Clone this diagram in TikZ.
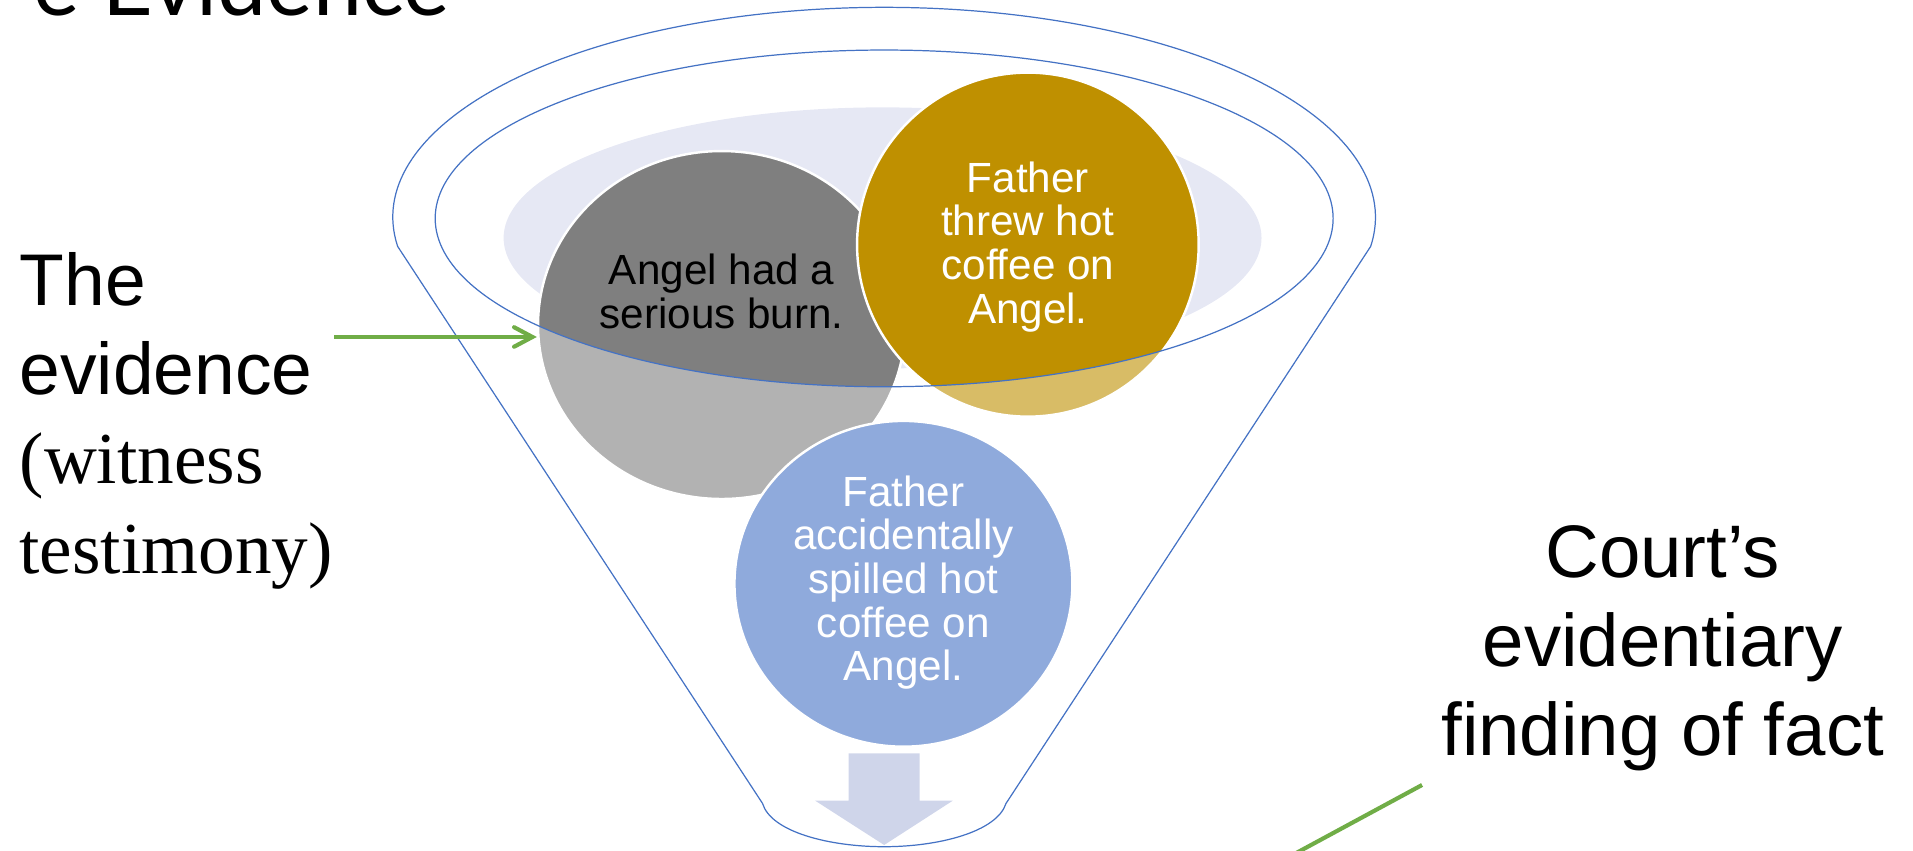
\documentclass[tikz,border=0pt]{standalone}
\usepackage{fontspec}
\setmainfont{Liberation Sans}
\newfontfamily\serifface{Liberation Serif}
\newfontfamily\titleface{Lato}
\usetikzlibrary{shapes.geometric,arrows.meta,calc}
\definecolor{rim}{HTML}{4472C4}
\definecolor{haze}{HTML}{E6E8F4}
\definecolor{burngray}{HTML}{7F7F7F}
\definecolor{gold}{HTML}{BF9000}
\definecolor{softblue}{HTML}{8FAADC}
\definecolor{chute}{HTML}{CFD5EA}
\definecolor{leaf}{HTML}{70AD47}
\begin{document}
\begin{tikzpicture}[x=0.5pt,y=-0.5pt,
  rimline/.style={draw=rim,line width=0.5pt},
  disc/.style={ellipse,inner sep=0,draw=white,line width=1pt},
  disctext/.style={align=center,font=\fontsize{17.3}{17.9}\selectfont,inner sep=0,anchor=base},
  bigtext/.style={inner sep=0,font=\fontsize{30}{36.5}\selectfont},
  pointer/.style={draw=leaf,line width=1.7pt}]
\useasboundingbox (0,0) rectangle (1568,697.5);
\clip (0,0) rectangle (1568,697.5);

% heading, mostly above the page edge
\node[anchor=base east,inner sep=0,font=\titleface\fontsize{36}{40}\selectfont] (title) at (369,13.1) {e Evidence};

% pale pool inside the funnel mouth
\fill[haze] (723.4,195) ellipse [x radius=310.6, y radius=107];

% the two pieces of evidence entering the funnel
\node[disc,fill=burngray,minimum width=150.5pt,minimum height=142.6pt] (burn) at (591.5,266.4) {};
\node[disc,fill=gold,minimum width=140pt,minimum height=141pt] (threw) at (842.5,200.5) {};

% front of the funnel lightens what lies below the rim
\fill[white,opacity=0.4,even odd rule] (330,25) rectangle (1120,420) (724.7,179) ellipse [x radius=368, y radius=138];

% funnel outline and rim
\draw[rimline] (724.7,179) ellipse [x radius=368, y radius=138];
\draw[rimline] ($(724.7,178)+(172:402.7 and 172)$) arc[start angle=172,end angle=368,x radius=402.7,y radius=172]
  -- (824.6,658.5) .. controls (817,682) and (769,694) .. (724.7,694)
  .. controls (680,694) and (632,682) .. (625,658.5) -- cycle;

% the finding coming out of the funnel
\node[disc,fill=softblue,minimum width=138.5pt,minimum height=133.5pt] (spill) at (740.5,478.5) {};
\fill[chute] (695.6,617.5) -- (753.8,617.5) -- (753.8,656.3) -- (780.9,656.3) -- (724.7,692.6)
  -- (668.2,656.3) -- (695.6,656.3) -- cycle;

% texts in the circles (anchored on the last line)
\node[disctext,text=black] (burntext) at (591.5,269) {Angel had a\\serious burn.};
\node[disctext,text=white] (threwtext) at (842.5,265) {Father\\threw hot\\coffee on\\Angel.};
\node[disctext,text=white] (spilltext) at (740.5,558) {Father\\accidentally\\spilled hot\\coffee on\\Angel.};

% side captions
\node[bigtext,anchor=base west,align=left] (evid) at (15.7,469.7)
  {The\\evidence\\{\serifface (witness}\\{\serifface testimony)}};
\node[bigtext,anchor=base,align=center,font=\fontsize{30.5}{36.5}\selectfont] (finding) at (1362.8,619)
  {Court’s\\evidentiary\\finding of fact};

% pointers
\coordinate (evtail) at (274,276.2);
\draw[pointer,-{Straight Barb[length=7.5pt,width=8pt,line cap=round]}] (evtail) -- (burn.west |- evtail);
\coordinate (findtail) at (1165.6,643.4);
\coordinate (findhead) at (1060.9,700);
\draw[pointer] (findtail) -- (findhead);
\end{tikzpicture}
\end{document}
